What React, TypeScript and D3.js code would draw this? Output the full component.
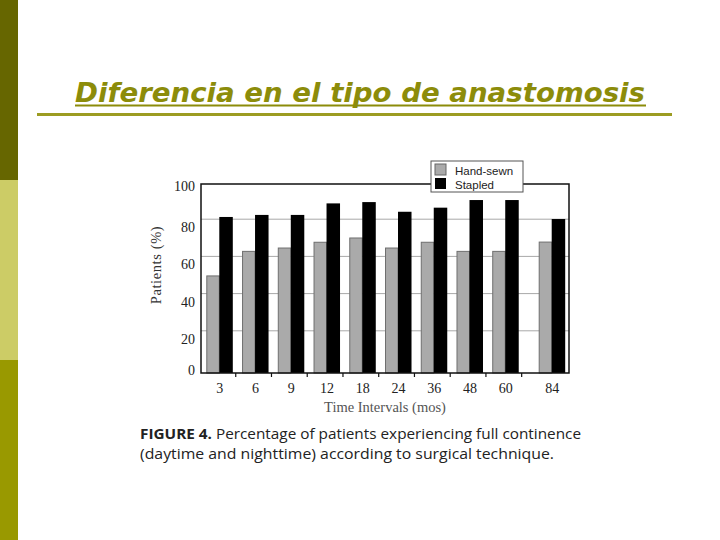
import React from "react";
import * as d3 from "d3";

const categories = ["3", "6", "9", "12", "18", "24", "36", "48", "60", "84"];
const handSewn = [49.5, 62.7, 64.5, 67.6, 69.9, 64.5, 67.6, 62.7, 62.7, 67.7];
const stapled = [81.2, 82.3, 82.3, 88.5, 89.2, 84.0, 86.2, 90.3, 90.3, 80.1];
const yTicks = [0, 20, 40, 60, 80, 100];
const seriesNames = ["Hand-sewn", "Stapled"];

// slot index per category (84 sits after a wider gap)
const slots = categories.map((_, i) => (i < 9 ? i : i + 0.3));

export default function App() {
  const W = 720, H = 540;
  const frameL = 201, frameR = 569, plotBottom = 373;
  const y = d3.scaleLinear().domain([0, 100]).range([368, 182]);
  const x = d3.scaleLinear().domain([0, 9.3]).range([219.3, 551.7]);
  const bw = 12.5;
  const tickSlots = d3.range(9).map((i) => i + 0.46);

  return (
    <svg width={W} height={H} style={{ position: "absolute", left: 0, top: 0, background: "#fff" }}>
      {/* left decorative bar */}
      <rect x={0} y={0} width={18} height={180} fill="#666600" />
      <rect x={0} y={180} width={18} height={180} fill="#cccc66" />
      <rect x={0} y={360} width={18} height={180} fill="#999900" />

      {/* title */}
      <text
        x={75}
        y={102}
        fontFamily="DejaVu Sans"
        fontWeight="bold"
        fontStyle="italic"
        fontSize={26}
        fill="#8c8c0a"
        textLength={570}
        lengthAdjust="spacingAndGlyphs"
      >
        Diferencia en el tipo de anastomosis
      </text>
      <rect x={75} y={104.5} width={571} height={2} fill="#8c8c0a" />
      <rect x={37} y={113} width={635} height={3} fill="#9c9c22" />

      {/* gridlines */}
      {yTicks.filter((t) => t > 0 && t < 100).map((t) => (
        <line key={t} x1={frameL} x2={frameR} y1={y(t)} y2={y(t)} stroke="#a8a8a8" strokeWidth={1} />
      ))}

      {/* bars */}
      {categories.map((c, i) => (
        <g key={c}>
          <rect
            x={x(slots[i]) - bw}
            y={y(handSewn[i])}
            width={bw}
            height={plotBottom - y(handSewn[i])}
            fill="#aaaaaa"
            stroke="#6f6f6f"
            strokeWidth={1}
          />
          <rect
            x={x(slots[i])}
            y={y(stapled[i])}
            width={bw + 1}
            height={plotBottom - y(stapled[i])}
            fill="#000"
          />
        </g>
      ))}

      {/* frame */}
      <rect
        x={frameL}
        y={184}
        width={frameR - frameL}
        height={plotBottom - 184}
        fill="none"
        stroke="#111"
        strokeWidth={1.5}
      />
      {/* bottom ticks */}
      {tickSlots.map((s, i) => (
        <line key={i} x1={x(s)} x2={x(s)} y1={plotBottom} y2={plotBottom + 4} stroke="#111" strokeWidth={1.2} />
      ))}

      {/* y tick labels */}
      {yTicks.map((t) => (
        <text
          key={t}
          x={195}
          y={y(t) + (t === 0 ? 7 : t === 100 ? 9 : 13)}
          textAnchor="end"
          fontFamily="Liberation Serif"
          fontSize={14}
          fill="#222"
        >
          {t}
        </text>
      ))}
      <text
        transform={`translate(161,265) rotate(-90)`}
        textAnchor="middle"
        fontFamily="Liberation Serif"
        fontSize={14.5}
        fill="#333"
        letterSpacing={0.6}
      >
        Patients  (%)
      </text>

      {/* x labels */}
      {categories.map((c, i) => (
        <text
          key={c}
          x={x(slots[i]) + 0.5}
          y={393}
          textAnchor="middle"
          fontFamily="Liberation Serif"
          fontSize={14}
          fill="#222"
        >
          {c}
        </text>
      ))}
      <text x={385} y={412} textAnchor="middle" fontFamily="Liberation Serif" fontSize={14.5} fill="#555">
        Time Intervals (mos)
      </text>

      {/* legend */}
      <rect x={431} y={161} width={92} height={31} fill="#fff" stroke="#555" strokeWidth={1} />
      <rect x={435} y={164} width={11} height={11} fill="#aaaaaa" stroke="#666" strokeWidth={1} />
      <rect x={435} y={178} width={11} height={11} fill="#000" />
      <text x={455} y={175} fontFamily="Liberation Sans" fontSize={11.5} fill="#222">
        {seriesNames[0]}
      </text>
      <text x={455} y={189} fontFamily="Liberation Sans" fontSize={11.5} fill="#222">
        {seriesNames[1]}
      </text>

      {/* caption */}
      <text x={140} y={439} fontFamily="Open Sans" fontSize={14.5} fill="#222" textLength={441} lengthAdjust="spacingAndGlyphs">
        <tspan fontWeight="bold">FIGURE 4.</tspan>
        <tspan> Percentage of patients experiencing full continence</tspan>
      </text>
      <text x={140} y={459} fontFamily="Open Sans" fontSize={14.5} fill="#222" textLength={414} lengthAdjust="spacingAndGlyphs">
        (daytime and nighttime) according to surgical technique.
      </text>
    </svg>
  );
}
